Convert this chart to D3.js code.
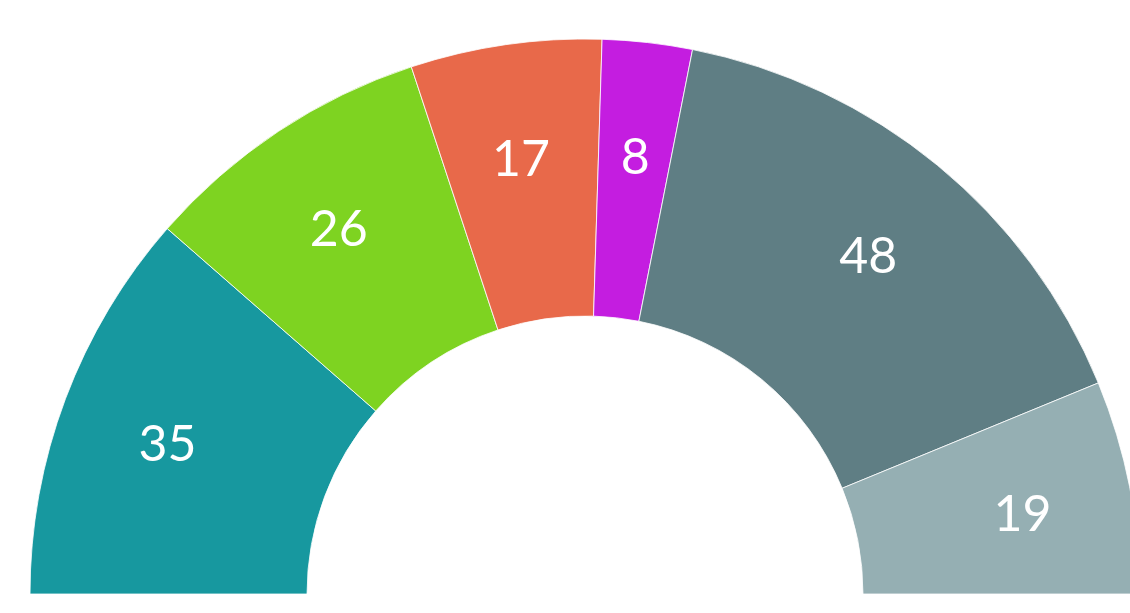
<!DOCTYPE html>
<meta charset="utf-8">
<head>
  <style>
    body { margin: 0; background: #fff; }
    .label { font-family: Lato, "Open Sans", sans-serif; font-size: 50px; fill: #fff; }
  </style>
</head>
<body>
  <div class="chart"></div>
  <script src="https://d3js.org/d3.v7.min.js"></script>
  <script>
    // seats per party, left to right
    var parties = ["A", "B", "C", "D", "E", "F"];
    var seats = [35, 26, 17, 8, 48, 19];
    var colors = ["#17989f", "#7ed321", "#e8694a", "#c41de0", "#5f7e84", "#95afb3"];

    var width = 1130, height = 613;
    var cx = 585, cy = 594;
    var outerR = 555, innerR = 278, labelR = 446;

    var svg = d3.select(".chart").append("svg")
        .attr("width", width)
        .attr("height", height)
      .append("g")
        .attr("transform", "translate(" + cx + "," + cy + ")");

    var data = parties.map(function(p, i) { return { party: p, seats: seats[i], color: colors[i] }; });

    var pie = d3.pie()
        .sort(null)
        .value(function(d) { return d.seats; })
        .startAngle(-Math.PI / 2)
        .endAngle(Math.PI / 2);

    var arc = d3.arc().innerRadius(innerR).outerRadius(outerR);
    var labelArc = d3.arc().innerRadius(labelR).outerRadius(labelR);

    var arcs = pie(data);

    svg.selectAll(".slice")
        .data(arcs)
      .enter().append("path")
        .attr("class", "slice")
        .attr("d", arc)
        .style("fill", function(d) { return d.data.color; })
        .style("stroke", "#fff")
        .style("stroke-width", 0.8);

    svg.selectAll(".label")
        .data(arcs)
      .enter().append("text")
        .attr("class", "label")
        .attr("transform", function(d) { return "translate(" + labelArc.centroid(d) + ")"; })
        .attr("text-anchor", "middle")
        .attr("dy", "0.47em")
        .text(function(d) { return d.data.seats; });
  </script>
</body>
